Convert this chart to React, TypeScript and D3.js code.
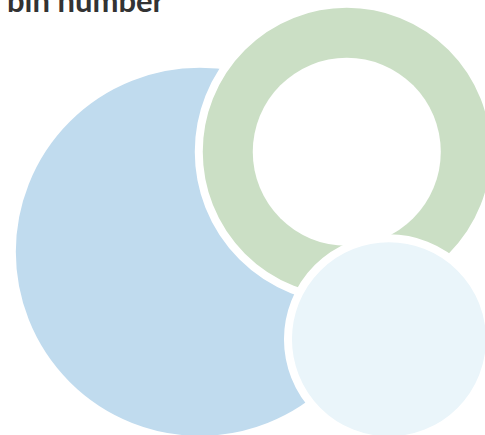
import React, { useEffect, useRef } from "react";
import * as d3 from "d3";

// bubbles, drawn back to front
const names = ["bin A", "bin B", "bin C"];
const posX = [41.2, 71.5, 80.2];
const posY = [57.9, 34.9, 78.0];
const sizes = [3386, 2074, 941];
const holes = [0, 884, 0];
const colors = ["#c0dbee", "#cbdfc5", "#eaf5fa"];
const title = "bin number";

const App: React.FC = () => {
  const svgRef = useRef<SVGSVGElement | null>(null);

  useEffect(() => {
    const width = 485;
    const height = 435;
    const gap = 8;

    const x = d3.scaleLinear().domain([0, 100]).range([0, width]);
    const y = d3.scaleLinear().domain([0, 100]).range([0, height]);
    const r = d3
      .scaleSqrt()
      .domain([0, d3.max(sizes) as number])
      .range([0, 184]);

    const svg = d3
      .select(svgRef.current)
      .attr("width", width)
      .attr("height", height)
      .attr("viewBox", [0, 0, width, height]);
    svg.selectAll("*").remove();

    const nodes = svg
      .selectAll(".bubble")
      .data(names)
      .enter()
      .append("g")
      .attr("class", "bubble")
      .attr("transform", (_, i) => `translate(${x(posX[i])},${y(posY[i])})`);

    nodes
      .append("circle")
      .attr("r", (_, i) => r(sizes[i]) + gap / 2)
      .attr("fill", (_, i) => colors[i])
      .attr("stroke", "#fff")
      .attr("stroke-width", gap);

    nodes
      .filter((_, i) => holes[i] > 0)
      .append("circle")
      .attr("r", (d) => r(holes[names.indexOf(d as string)]))
      .attr("fill", "#fff");

    svg
      .append("text")
      .attr("x", 7)
      .attr("y", 12)
      .attr("fill", "#333")
      .style("font", "bold 31px Lato, sans-serif")
      .text(title);
  }, []);

  return (
    <svg
      ref={svgRef}
      style={{ position: "absolute", left: 0, top: 0, display: "block" }}
    ></svg>
  );
};

export default App;
